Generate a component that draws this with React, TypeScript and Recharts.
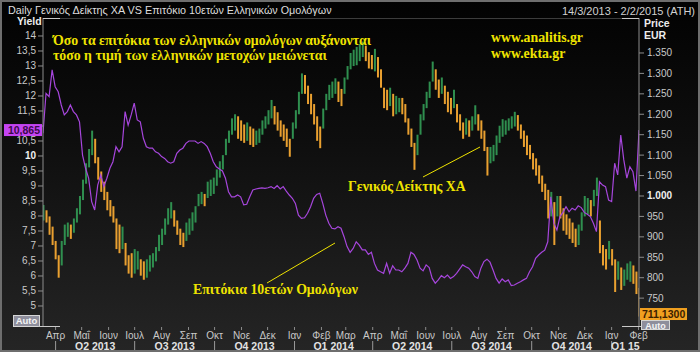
import React from 'react';
import { ComposedChart, Line, Bar, XAxis, YAxis, ReferenceDot } from 'recharts';

// ---------- data ----------
const START_DATE = '2013-03-14';
const FIRST_WEEK = 0.5;
const STEP_WEEK = 0.5;

// 10y Greek bond yield (%), sampled every half week
const yieldValues = [
  10.76, 12.09, 11.98, 12.87, 12.31, 12.14, 11.7, 11.37, 11.48, 11.7,
  11.48, 11.37, 11.14, 10.03, 9.59, 9.26, 8.48, 8.2, 9.03, 9.37,
  8.98, 9.26, 9.59, 9.81, 10.31, 10.14, 10.31, 11.48, 11.03, 11.37,
  11.76, 11.2, 11.14, 10.59, 10.31, 10.26, 10.26, 10.14, 10.09, 9.98,
  9.92, 9.81, 9.76, 9.81, 10.09, 10.2, 10.26, 10.42, 10.5, 10.5,
  10.5, 10.42, 10.48, 10.42, 10.31, 10.09, 9.81, 9.64, 9.57, 9.5,
  9.26, 8.81, 8.64, 8.64, 8.7, 8.64, 8.37, 8.39, 8.64, 8.87,
  8.9, 8.92, 8.94, 8.92, 8.94, 8.98, 8.92, 9.01, 8.9, 8.98,
  8.83, 8.7, 8.59, 8.42, 8.03, 7.92, 7.94, 8.09, 8.31, 8.59,
  8.72, 8.76, 8.42, 8.03, 7.76, 7.59, 7.57, 7.64, 7.59, 7.31,
  6.98, 6.79, 6.92, 7.14, 7.03, 6.87, 6.87, 6.72, 6.79, 6.42,
  6.2, 6.14, 6.09, 6.42, 6.09, 6.34, 6.2, 6.2, 6.14, 6.26,
  6.42, 6.79, 6.72, 6.53, 6.26, 6.17, 6.37, 6.28, 5.92, 5.76,
  5.87, 6.01, 5.94, 6.03, 5.92, 5.98, 6.09, 6.23, 6.37, 6.31,
  6.26, 6.14, 5.98, 5.92, 6.26, 6.48, 6.56, 6.46, 6.2, 5.92,
  5.76, 5.9, 5.81, 5.87, 5.68, 5.7, 5.76, 5.81, 5.87, 5.92,
  6.14, 6.31, 6.59, 6.7, 6.79, 6.86, 7.14, 8.64, 7.76, 7.53,
  7.98, 8.12, 8.31, 8.14, 8.26, 8.2, 8.34, 8.28, 8.12, 8.06,
  7.98, 7.76, 7.48, 9.14, 9.03, 8.98, 8.53, 8.48, 9.76, 9.37,
  10.7, 9.87, 9.26, 9.64, 9.48, 8.83, 10.865,
];

// Athens General Index, low / high of each half-week bar
const indexLow = [
  940, 935, 905, 880, 845, 800, 830, 880, 900, 895,
  910, 935, 955, 990, 1030, 1070, 1100, 1080, 1040, 1010,
  990, 965, 950, 935, 870, 860, 870, 830, 810, 800,
  810, 820, 805, 795, 800, 815, 825, 840, 865, 880,
  905, 930, 945, 925, 905, 880, 875, 890, 905, 915,
  935, 975, 980, 975, 995, 1000, 1005, 1025, 1045, 1065,
  1100, 1130, 1150, 1160, 1140, 1135, 1130, 1135, 1125, 1120,
  1125, 1130, 1150, 1165, 1175, 1190, 1175, 1160, 1145, 1135,
  1120, 1096, 1140, 1165, 1200, 1250, 1250, 1225, 1200, 1175,
  1135, 1117, 1165, 1210, 1235, 1240, 1250, 1230, 1220, 1250,
  1285, 1310, 1318, 1320, 1330, 1340, 1330, 1312, 1310, 1305,
  1290, 1265, 1215, 1210, 1220, 1195, 1200, 1205, 1200, 1180,
  1150, 1120, 1064, 1100, 1150, 1185, 1215, 1240, 1280, 1260,
  1240, 1250, 1225, 1205, 1200, 1215, 1180, 1160, 1140, 1150,
  1145, 1160, 1175, 1160, 1140, 1110, 1050, 1080, 1085, 1100,
  1130, 1145, 1150, 1160, 1165, 1170, 1160, 1140, 1120, 1100,
  1090, 1065, 1050, 1030, 1010, 990, 945, 950, 880, 950,
  945, 915, 905, 895, 885, 875, 880, 915, 950, 955,
  950, 975, 1000, 860, 830, 820, 845, 830, 765, 795,
  770, 780, 795, 790, 785, 760, 705,
];
const indexHigh = [
  978, 965, 950, 925, 890, 855, 890, 930, 935, 930,
  945, 970, 1000, 1040, 1080, 1115, 1160, 1140, 1095, 1060,
  1035, 1010, 990, 975, 945, 930, 925, 885, 855, 860,
  870, 865, 845, 840, 845, 855, 860, 875, 905, 920,
  945, 970, 985, 965, 940, 920, 910, 935, 945, 960,
  975, 1005, 1010, 1005, 1035, 1040, 1045, 1065, 1085, 1100,
  1140, 1160, 1190, 1200, 1195, 1185, 1175, 1180, 1170, 1165,
  1160, 1165, 1185, 1195, 1210, 1235, 1220, 1205, 1185, 1175,
  1165, 1140, 1180, 1210, 1255, 1300, 1296, 1270, 1250, 1225,
  1195, 1170, 1214, 1250, 1272, 1280, 1288, 1280, 1262, 1290,
  1318, 1350, 1358, 1365, 1372, 1378, 1368, 1352, 1345, 1360,
  1340, 1310, 1265, 1260, 1265, 1250, 1245, 1240, 1240, 1225,
  1190, 1165, 1130, 1150, 1200, 1225, 1255, 1280, 1329, 1310,
  1285, 1290, 1270, 1255, 1240, 1260, 1225, 1200, 1180, 1190,
  1185, 1195, 1222, 1200, 1185, 1160, 1120, 1120, 1125, 1148,
  1172, 1188, 1185, 1190, 1195, 1206, 1198, 1175, 1160, 1148,
  1125, 1105, 1092, 1075, 1050, 1030, 1015, 1010, 985, 1000,
  1000, 970, 955, 945, 935, 920, 930, 960, 1000, 995,
  990, 1015, 1045, 940, 880, 870, 890, 870, 845, 840,
  825, 820, 835, 840, 830, 815, 775,
];

const lastYield = 10.865;
const lastIndex = 711.13;

const monthTickDates = [
  '2013-04-01', '2013-05-01', '2013-06-01', '2013-07-01', '2013-08-01', '2013-09-01',
  '2013-10-01', '2013-11-01', '2013-12-01', '2014-01-01', '2014-02-01', '2014-03-01',
  '2014-04-01', '2014-05-01', '2014-06-01', '2014-07-01', '2014-08-01', '2014-09-01',
  '2014-10-01', '2014-11-01', '2014-12-01', '2015-01-01', '2015-02-01',
];
const monthTickLabels = [
  'Απρ', 'Μαΐ', 'Ιουν', 'Ιουλ', 'Αυγ', 'Σεπ', 'Οκτ', 'Νοε', 'Δεκ', 'Ιαν', 'Φεβ', 'Μαρ',
  'Απρ', 'Μαΐ', 'Ιουν', 'Ιουλ', 'Αυγ', 'Σεπ', 'Οκτ', 'Νοε', 'Δεκ', 'Ιαν', 'Φεβ',
];
const quarterStartDates = [
  '2013-04-01', '2013-07-01', '2013-10-01', '2014-01-01',
  '2014-04-01', '2014-07-01', '2014-10-01', '2015-01-01',
];
const quarterLabels = ['Q2 2013', 'Q3 2013', 'Q4 2013', 'Q1 2014', 'Q2 2014', 'Q3 2014', 'Q4 2014', 'Q1 15'];
const END_DATE = '2015-02-02';

const yieldTicks = [5, 5.5, 6, 6.5, 7, 7.5, 8, 8.5, 9, 9.5, 10, 10.5, 11, 11.5, 12, 12.5, 13, 13.5, 14];
const priceTicks = [750, 800, 850, 900, 950, 1000, 1050, 1100, 1150, 1200, 1250, 1300, 1350];

// ---------- helpers ----------
const DAY = 86400000;
const weekOf = (d: string) => (Date.parse(d + 'T00:00:00Z') - Date.parse(START_DATE + 'T00:00:00Z')) / (7 * DAY);
const X_MIN = FIRST_WEEK;
const X_MAX = FIRST_WEEK + STEP_WEEK * (yieldValues.length - 1);

const data = yieldValues.map((y, i) => {
  const mid = (indexLow[i] + indexHigh[i]) / 2;
  const prevMid = i > 0 ? (indexLow[i - 1] + indexHigh[i - 1]) / 2 : mid;
  return {
    w: FIRST_WEEK + STEP_WEEK * i,
    yld: y,
    range: [indexLow[i], indexHigh[i]],
    up: mid >= prevMid,
  };
});

const monthTicks = monthTickDates.map(weekOf);
const monthLabelMap = new Map<number, string>();
monthTicks.forEach((t, i) => monthLabelMap.set(t, monthTickLabels[i]));

const qStarts = quarterStartDates.map(weekOf);
const endWeek = Math.min(weekOf(END_DATE), X_MAX);
const qMids = qStarts.map((s, i) => (s + (i < qStarts.length - 1 ? qStarts[i + 1] : endWeek)) / 2);
const qLabelMap = new Map<number, string>();
qMids.forEach((m, i) => qLabelMap.set(m, quarterLabels[i]));
const quarterTicks = [...qStarts, ...qMids].sort((a, b) => a - b);

const GREEN = '#2f8f4f';
const ORANGE = '#e9a030';
const PURPLE = '#a646dc';
const AXIS = '#8c8c8c';
const LABEL = '#c9c9c9';
const YELLOW = '#efe300';
const SANS = '"Liberation Sans", Arial, sans-serif';
const SERIF = '"Liberation Serif", "Times New Roman", serif';

const fmtYield = (v: number) => String(v).replace('.', ',');
const fmtPrice = (v: number) => (v >= 1000 ? Math.floor(v / 1000) + '.' + String(v % 1000).padStart(3, '0') : String(v));

const MonthTick = (props: any) => {
  const { x, payload } = props;
  const label = monthLabelMap.get(payload.value) ?? '';
  return (
    <g>
      <line x1={x} x2={x} y1={327} y2={330} stroke={AXIS} />
      <text x={x} y={339} textAnchor="middle" fontSize={10} fill={LABEL} fontFamily={SANS}>{label}</text>
    </g>
  );
};

const QuarterTick = (props: any) => {
  const { x, payload } = props;
  const label = qLabelMap.get(payload.value);
  if (label === undefined) {
    return <line x1={x} x2={x} y1={341} y2={352} stroke="#9a9a9a" />;
  }
  return (
    <text x={x} y={350} textAnchor="middle" fontSize={10.5} fontWeight="bold" fill="#e2e2e2" fontFamily={SANS}>{label}</text>
  );
};

const LeftTick = (props: any) => {
  const { x, y, payload } = props;
  // the last-value box sits on top of the axis here, hiding the tick label it covers
  if (Math.abs(payload.value - lastYield) < 0.3) return <g />;
  const bold = payload.value === 10;
  return (
    <text x={x} y={y} dy={3.5} textAnchor="end" fontSize={10} fill={bold ? '#f0f0f0' : LABEL} fontWeight={bold ? 'bold' : 'normal'} fontFamily={SANS}>
      {fmtYield(payload.value)}
    </text>
  );
};

const RightTick = (props: any) => {
  const { x, y, payload } = props;
  const bold = payload.value === 1000;
  return (
    <text x={x} y={y} dy={3.5} textAnchor="start" fontSize={10} fill={bold ? '#f0f0f0' : LABEL} fontWeight={bold ? 'bold' : 'normal'} fontFamily={SANS}>
      {fmtPrice(payload.value)}
    </text>
  );
};

const renderBar = (props: any) => {
  const { x, y, width, height, payload } = props;
  if (x == null || y == null) return <g />;
  const h = Math.abs(height);
  const top = height < 0 ? y + height : y;
  return <rect x={x + width / 2 - 1} y={top} width={2} height={Math.max(h, 1)} fill={payload.up ? GREEN : ORANGE} />;
};

const LeftBox = (props: any) => {
  const { cx, cy } = props;
  return (
    <g>
      <rect x={cx - 39} y={cy - 6} width={38} height={12} fill="#c444f2" />
      <text x={cx - 3} y={cy + 4} textAnchor="end" fontSize={10.5} fontWeight="bold" fill="#3a0a4a" fontFamily={SANS}>
        {fmtYield(lastYield)}
      </text>
    </g>
  );
};

const RightBox = (props: any) => {
  const { cx, cy } = props;
  return (
    <g>
      <rect x={cx + 1} y={cy - 6} width={47} height={12} fill="#f0a020" />
      <text x={cx + 3} y={cy + 4} textAnchor="start" fontSize={10.5} fontWeight="bold" fill="#3a2000" fontFamily={SANS}>
        {lastIndex.toFixed(4).replace('.', ',')}
      </text>
    </g>
  );
};

export default function App() {
  return (
    <div
      style={{
        position: 'absolute',
        left: 0,
        top: 0,
        width: 700,
        height: 352,
        overflow: 'hidden',
        background: 'linear-gradient(to bottom, #020202 0%, #0e0e0e 40%, #252525 100%)',
      }}
    >
      {/* underlay */}
      <svg width={700} height={352} style={{ position: 'absolute', left: 0, top: 0 }}>
        <line x1={43} x2={639} y1={18.5} y2={18.5} stroke="#3c3c3c" />
        <g fontFamily={SANS}>
          <rect x={13.5} y={315.5} width={26} height={11} fill="#8e8e9c" stroke="#d6d6d6" />
          <text x={26.5} y={324} textAnchor="middle" fontSize={9.5} fontWeight="bold" fill="#f4f4f4">Auto</text>
          <rect x={641.5} y={320.5} width={28} height={9} fill="#8e8e9c" stroke="#d6d6d6" />
          <text x={655.5} y={328.5} textAnchor="middle" fontSize={9} fontWeight="bold" fill="#f4f4f4">Auto</text>
        </g>
      </svg>
      <div style={{ position: 'absolute', left: 0, top: 0 }}>
        <ComposedChart width={700} height={352} data={data} margin={{ top: 18, right: 0, bottom: 0, left: 0 }}>
          <XAxis
            xAxisId="m"
            type="number"
            dataKey="w"
            domain={[X_MIN, X_MAX]}
            allowDataOverflow
            ticks={monthTicks}
            interval={0}
            height={14}
            axisLine={false}
            tickLine={false}
            tick={<MonthTick />}
          />
          <XAxis
            xAxisId="q"
            type="number"
            dataKey="w"
            domain={[X_MIN, X_MAX]}
            allowDataOverflow
            ticks={quarterTicks}
            interval={0}
            height={12}
            axisLine={false}
            tickLine={false}
            tick={<QuarterTick />}
          />
          <YAxis
            yAxisId="l"
            orientation="left"
            width={43}
            domain={[4.333, 14.6]}
            allowDataOverflow
            ticks={yieldTicks}
            interval={0}
            axisLine={{ stroke: AXIS }}
            tickLine={{ stroke: AXIS }}
            tickSize={5}
            tickMargin={2}
            tick={<LeftTick />}
          />
          <YAxis
            yAxisId="r"
            orientation="right"
            width={61}
            domain={[681.8, 1435.6]}
            allowDataOverflow
            ticks={priceTicks}
            interval={0}
            axisLine={{ stroke: AXIS }}
            tickLine={{ stroke: AXIS }}
            tickSize={5}
            tickMargin={3}
            tick={<RightTick />}
          />
          <Bar xAxisId="m" yAxisId="r" dataKey="range" barSize={2} shape={renderBar} isAnimationActive={false} />
          <Line
            xAxisId="m"
            yAxisId="l"
            type="linear"
            dataKey="yld"
            stroke={PURPLE}
            strokeWidth={1.2}
            dot={false}
            activeDot={false}
            isAnimationActive={false}
          />
          <ReferenceDot xAxisId="m" yAxisId="l" x={X_MIN} y={lastYield} ifOverflow="visible" shape={<LeftBox />} />
          <ReferenceDot xAxisId="m" yAxisId="r" x={X_MAX} y={lastIndex} ifOverflow="visible" shape={<RightBox />} />
        </ComposedChart>
      </div>
      {/* overlay texts */}
      <svg width={700} height={352} style={{ position: 'absolute', left: 0, top: 0, pointerEvents: 'none' }}>
        <rect x={1} y={1} width={698} height={350} fill="none" stroke="#6e6e6e" strokeWidth={2} />
        <g stroke="#c8c8c8" strokeWidth={1}>
          <line x1={43} x2={60} y1={18.5} y2={18.5} />
          <line x1={622} x2={639} y1={18.5} y2={18.5} />
          <line x1={38} x2={60} y1={326.5} y2={326.5} />
          <line x1={622} x2={641} y1={326.5} y2={326.5} />
        </g>
        <g fontFamily={SANS}>
          <text x={8} y={14} fontSize={10.8} fill="#dedede">Daily Γενικός Δείκτης ΧΑ VS Επιτόκιο 10ετών Ελληνικών Ομολόγων</text>
          <text x={695} y={15} textAnchor="end" fontSize={11} fill="#d0d0d0">14/3/2013 - 2/2/2015 (ATH)</text>
          <text x={17} y={25} fontSize={10.5} fontWeight="bold" fill="#ececec">Yield</text>
          <text x={644} y={27} fontSize={10.5} fontWeight="bold" fill="#ececec">Price</text>
          <text x={644} y={39} fontSize={10.5} fontWeight="bold" fill="#ececec">EUR</text>
        </g>
        <g fontFamily={SERIF} fontWeight="bold" fontSize={13.8} fill={YELLOW}>
          <text x={53} y={45}>Όσο τα επιτόκια των ελληνικών ομολόγων αυξάνονται</text>
          <text x={53} y={60}>τόσο η τιμή των ελληνικών μετοχών μειώνεται</text>
          <text x={491} y={42}>www.analitis.gr</text>
          <text x={491} y={58}>www.ekta.gr</text>
          <text x={348} y={191}>Γενικός Δείκτης ΧΑ</text>
          <text x={193} y={294}>Επιτόκια 10ετών Ομολόγων</text>
        </g>
        <g stroke={YELLOW} strokeWidth={1}>
          <line x1={267} y1={283} x2={335} y2={243} />
          <line x1={423} y1={177} x2={480} y2={147} />
        </g>
      </svg>
    </div>
  );
}
